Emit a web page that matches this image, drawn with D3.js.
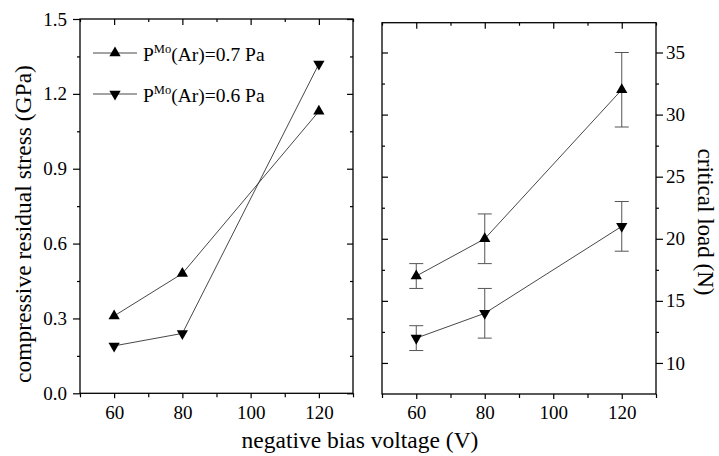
<!doctype html>
<html lang="en">
<head>
  <meta charset="utf-8">
  <title>Residual stress and critical load</title>
  <style>
    body { margin: 0; background: #fff; }
  </style>
</head>
<body>
  <svg width="719" height="456"></svg>
  <script src="https://cdn.jsdelivr.net/npm/d3@7/dist/d3.min.js"></script>
  <script>
    // data
    var voltages = [60, 80, 120];
    var stress07 = [0.31, 0.48, 1.13];
    var stress06 = [0.19, 0.24, 1.32];
    var load07 = [17, 20, 32];
    var load07Err = [1, 2, 3];
    var load06 = [12, 14, 21];
    var load06Err = [1, 2, 2];

    var xTicks = [60, 80, 100, 120];
    var xMinor = [50, 70, 90, 110, 130];
    var stressTicks = [0, 0.3, 0.6, 0.9, 1.2, 1.5];
    var stressMinor = [0.15, 0.45, 0.75, 1.05, 1.35];
    var loadTicks = [10, 15, 20, 25, 30, 35];
    var loadMinor = [12.5, 17.5, 22.5, 27.5, 32.5];
    var legendLabels = ['(Ar)=0.7 Pa', '(Ar)=0.6 Pa'];

    var serif = "'Liberation Serif'";
    var svg = d3.select('svg');
    svg.append('rect').attr('width', 719).attr('height', 456).attr('fill', '#fff');

    var xL = d3.scaleLinear().domain([50, 130]).range([80, 353]);
    var yL = d3.scaleLinear().domain([0, 1.5]).range([393.3, 19]);
    var xR = d3.scaleLinear().domain([50, 130]).range([382, 656]);
    var yR = d3.scaleLinear().domain([7.5, 37.4]).range([394, 22.7]);

    // draws one set of ticks (major or minor) along a border
    function ticks(orient, scale, values, size, x, y, fmt, pad) {
      var a = orient(scale).tickValues(values).tickSize(size).tickPadding(pad || 3);
      a.tickFormat(fmt || '');
      var g = svg.append('g').attr('transform', 'translate(' + x + ',' + y + ')').call(a);
      g.select('.domain').remove();
      g.selectAll('line').attr('stroke', '#000').attr('stroke-width', 1.2);
      g.selectAll('text').style('font-family', serif).style('font-size', '19px').attr('fill', '#000');
      return g;
    }

    // left panel axes
    ticks(d3.axisLeft, yL, stressTicks, 7, 80, 0, d3.format('.1f'), 6);
    ticks(d3.axisLeft, yL, stressMinor, 3, 80, 0);
    ticks(d3.axisLeft, yL, stressTicks, 6, 353, 0);
    ticks(d3.axisLeft, yL, stressMinor, 3, 353, 0);
    ticks(d3.axisBottom, xL, xTicks, 5, 0, 393.3, d3.format('d'), 7);
    ticks(d3.axisBottom, xL, xMinor, 4, 0, 393.3);
    ticks(d3.axisBottom, xL, xTicks, 6, 0, 19);
    ticks(d3.axisBottom, xL, xMinor, 3, 0, 19);

    // right panel axes
    ticks(d3.axisRight, yR, loadTicks, 7, 656, 0, d3.format('d'), 3);
    ticks(d3.axisRight, yR, loadMinor, 3, 656, 0);
    ticks(d3.axisRight, yR, loadTicks, 6, 382, 0);
    ticks(d3.axisRight, yR, loadMinor, 3, 382, 0);
    ticks(d3.axisBottom, xR, xTicks, 5, 0, 394, d3.format('d'), 7);
    ticks(d3.axisBottom, xR, xMinor, 4, 0, 394);
    ticks(d3.axisBottom, xR, xTicks, 6, 0, 22.7);
    ticks(d3.axisBottom, xR, xMinor, 3, 0, 22.7);

    // frames
    svg.append('rect').attr('x', 80).attr('y', 19).attr('width', 273).attr('height', 374.3)
      .attr('fill', 'none').attr('stroke', '#000').attr('stroke-width', 1.3);
    svg.append('rect').attr('x', 382).attr('y', 22.7).attr('width', 274).attr('height', 371.3)
      .attr('fill', 'none').attr('stroke', '#000').attr('stroke-width', 1.3);

    var up = d3.symbol().type(d3.symbolTriangle).size(55);

    function series(xs, ys, vals, down) {
      var line = d3.line().x((v, i) => xs(voltages[i])).y(v => ys(v));
      svg.append('path').datum(vals).attr('d', line)
        .attr('fill', 'none').attr('stroke', '#333').attr('stroke-width', 0.9);
      svg.append('g').selectAll('path').data(vals).enter()
        .append('path')
        .attr('d', up)
        .attr('transform', (v, i) => 'translate(' + xs(voltages[i]) + ',' + ys(v) + ')' + (down ? ' rotate(180)' : ''))
        .attr('fill', '#000');
    }

    function errorBars(vals, errs) {
      var g = svg.append('g').attr('stroke', '#555').attr('stroke-width', 1);
      vals.forEach(function (v, i) {
        var x = xR(voltages[i]);
        g.append('line').attr('x1', x).attr('x2', x).attr('y1', yR(v - errs[i])).attr('y2', yR(v + errs[i]));
        g.append('line').attr('x1', x - 7).attr('x2', x + 7).attr('y1', yR(v + errs[i])).attr('y2', yR(v + errs[i]));
        g.append('line').attr('x1', x - 7).attr('x2', x + 7).attr('y1', yR(v - errs[i])).attr('y2', yR(v - errs[i]));
      });
    }

    errorBars(load07, load07Err);
    errorBars(load06, load06Err);

    series(xL, yL, stress07, false);
    series(xL, yL, stress06, true);
    series(xR, yR, load07, false);
    series(xR, yR, load06, true);

    // legend
    var legend = svg.append('g');
    legendLabels.forEach(function (lab, i) {
      var y = 53 + i * 41;
      legend.append('line').attr('x1', 93).attr('x2', 137).attr('y1', y).attr('y2', y)
        .attr('stroke', '#333').attr('stroke-width', 0.9);
      legend.append('path').attr('d', up)
        .attr('transform', 'translate(115,' + y + ')' + (i === 1 ? ' rotate(180)' : ''))
        .attr('fill', '#000');
      var t = legend.append('text').attr('x', 143).attr('y', y + 8)
        .style('font-family', serif).style('font-size', '19.5px').attr('fill', '#000');
      t.append('tspan').text('P');
      t.append('tspan').attr('dy', -8).style('font-size', '12.5px').text('Mo');
      t.append('tspan').attr('dy', 8).text(lab);
    });

    // axis titles
    svg.append('text').attr('x', 360).attr('y', 448).attr('text-anchor', 'middle')
      .style('font-family', serif).style('font-size', '23.5px').text('negative bias voltage (V)');
    svg.append('text').attr('transform', 'translate(31,224) rotate(-90)').attr('text-anchor', 'middle')
      .style('font-family', serif).style('font-size', '23.5px').text('compressive residual stress (GPa)');
    svg.append('text').attr('transform', 'translate(698,222) rotate(90)').attr('text-anchor', 'middle')
      .style('font-family', serif).style('font-size', '23px').text('critical load (N)');
  </script>
</body>
</html>
